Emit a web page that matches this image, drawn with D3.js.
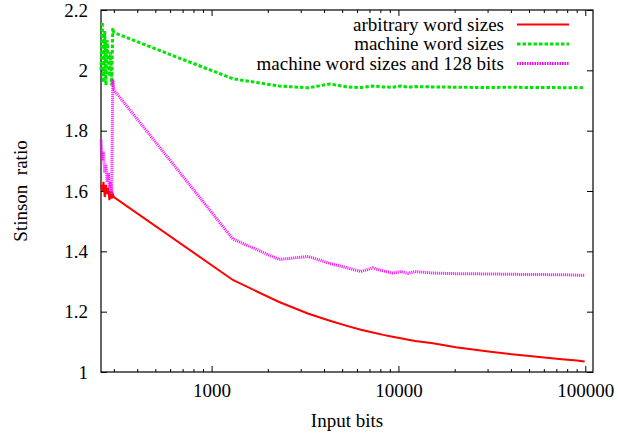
<!DOCTYPE html>
<html>
<head>
<meta charset="utf-8">
<script src="https://cdn.jsdelivr.net/npm/d3@7"></script>
<style>
  body { margin: 0; background: #fff; }
  text { font-family: "Liberation Serif", "DejaVu Serif", serif; fill: #000; }
</style>
</head>
<body>
<div id="chart"></div>
<script>
// values
let inputBits = [256, 260, 264, 268, 272, 276, 280, 284, 288, 292, 296, 300,
  1300, 2300, 3300, 4300, 5300, 6300, 7300, 8300, 9300, 10300, 11300, 12300,
  15300, 20300, 30300, 40300, 50300, 60300, 70300, 80300, 90300, 99300];

let arbitrary = [1.62, 1.60, 1.63, 1.58, 1.62, 1.59, 1.61, 1.57, 1.60, 1.575, 1.59, 1.58,
  1.305, 1.232, 1.193, 1.170, 1.153, 1.140, 1.131, 1.123, 1.117, 1.112, 1.107, 1.103,
  1.095, 1.082, 1.068, 1.059, 1.053, 1.048, 1.044, 1.041, 1.038, 1.035];

let machine = [2.00, 2.16, 1.96, 2.13, 1.95, 2.10, 2.04, 1.98, 2.06, 1.95, 2.14, 2.125,
  1.972, 1.948, 1.942, 1.955, 1.945, 1.943, 1.948, 1.945, 1.944, 1.948, 1.944, 1.946,
  1.945, 1.944, 1.943, 1.944, 1.943, 1.943, 1.943, 1.942, 1.943, 1.942];

let machine128 = [1.77, 1.70, 1.73, 1.66, 1.69, 1.63, 1.66, 1.61, 1.63, 1.59, 1.97, 1.935,
  1.441, 1.373, 1.383, 1.360, 1.345, 1.333, 1.345, 1.335, 1.328, 1.333, 1.327, 1.333,
  1.328, 1.326, 1.325, 1.324, 1.323, 1.323, 1.322, 1.322, 1.321, 1.321];

let seriesNames = ["arbitrary word sizes", "machine word sizes", "machine word sizes and 128 bits"];
let xMajorTicks = [1000, 10000, 100000];
let xMinorTicks = [300, 400, 500, 600, 700, 800, 900, 2000, 3000, 4000, 5000, 6000, 7000, 8000, 9000,
  20000, 30000, 40000, 50000, 60000, 70000, 80000, 90000];
let yTicks = [1, 1.2, 1.4, 1.6, 1.8, 2, 2.2];

let W = 618, H = 437;
let margin = {top: 10, right: 25, bottom: 65, left: 101};
let width = W - margin.left - margin.right,
    height = H - margin.top - margin.bottom;

let x = d3.scaleLog().domain([256, 110000]).range([0, width]);
let y = d3.scaleLinear().domain([1, 2.2]).range([height, 0]);

let svg = d3.select("#chart").append("svg")
    .attr("width", W)
    .attr("height", H)
  .append("g")
    .attr("transform", `translate(${margin.left},${margin.top})`);

let fontSize = 19;

// ticks on all four sides, pointing inward
function tickAxis(axis, ticks, size, showLabels) {
  return axis.tickValues(ticks).tickSize(-size).tickSizeOuter(0)
    .tickFormat(showLabels ? d3.format("") : "");
}

svg.append("g")
  .attr("transform", `translate(0,${height})`)
  .call(tickAxis(d3.axisBottom(x), xMajorTicks, 6, true).tickPadding(12));
svg.append("g")
  .attr("transform", `translate(0,${height})`)
  .call(tickAxis(d3.axisBottom(x), xMinorTicks, 3, false));
svg.append("g")
  .call(tickAxis(d3.axisTop(x), xMajorTicks, 6, false));
svg.append("g")
  .call(tickAxis(d3.axisTop(x), xMinorTicks, 3, false));

svg.append("g")
  .call(tickAxis(d3.axisLeft(y), yTicks, 6, true).tickPadding(13));
svg.append("g")
  .attr("transform", `translate(${width},0)`)
  .call(tickAxis(d3.axisRight(y), yTicks, 6, false));

svg.selectAll(".domain").remove();
svg.selectAll(".tick line").attr("stroke", "#000");
svg.selectAll(".tick text")
  .style("font-family", '"Liberation Serif", serif')
  .style("font-size", fontSize + "px");

// frame
svg.append("rect")
  .attr("width", width)
  .attr("height", height)
  .attr("fill", "none")
  .attr("stroke", "#000")
  .attr("stroke-width", 1.2);

// axis titles
svg.append("text")
  .attr("text-anchor", "middle")
  .attr("transform", `translate(${-margin.left + 27},${height / 2})rotate(-90)`)
  .style("font-size", fontSize + "px")
  .style("white-space", "pre")
  .text("Stinson  ratio");

svg.append("text")
  .attr("text-anchor", "middle")
  .attr("x", 246)
  .attr("y", height + 55)
  .style("font-size", fontSize + "px")
  .text("Input bits");

// the three curves
let styles = [
  {values: arbitrary, color: "#ff0000", width: 2, dash: null},
  {values: machine, color: "#00e600", width: 3, dash: "3.5,2"},
  {values: machine128, color: "#ff00ff", width: 3, dash: "1,1"}
];

let line = d3.line()
  .x(function(d) { return x(d[0]); })
  .y(function(d) { return y(d[1]); });

styles.forEach(function(s) {
  svg.append("path")
    .datum(inputBits.map(function(b, i) { return [b, s.values[i]]; }))
    .attr("fill", "none")
    .attr("stroke", s.color)
    .attr("stroke-width", s.width)
    .attr("stroke-dasharray", s.dash)
    .attr("d", line);
});

// legend
let legend = svg.append("g");
styles.forEach(function(s, i) {
  let ly = 14.5 + i * 19.5;
  legend.append("text")
    .attr("x", 403)
    .attr("y", ly + 6)
    .attr("text-anchor", "end")
    .style("font-size", fontSize + "px")
    .text(seriesNames[i]);
  legend.append("line")
    .attr("x1", 416).attr("x2", 468)
    .attr("y1", ly).attr("y2", ly)
    .attr("stroke", s.color)
    .attr("stroke-width", s.width)
    .attr("stroke-dasharray", s.dash === "1,1" ? "1.5,1" : s.dash);
});
</script>
</body>
</html>
